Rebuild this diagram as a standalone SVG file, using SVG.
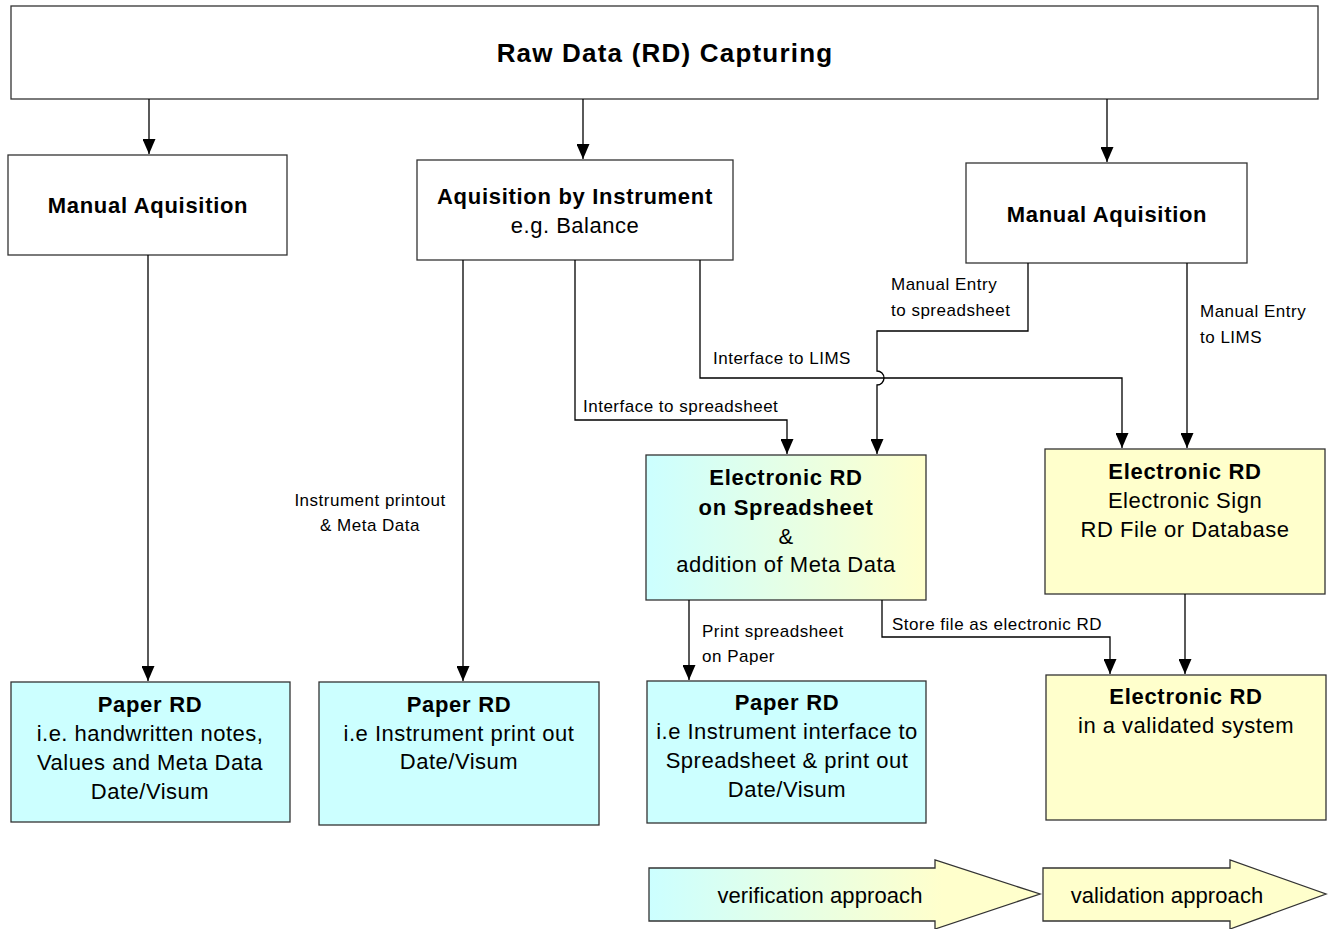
<svg xmlns="http://www.w3.org/2000/svg" width="1336" height="929" viewBox="0 0 1336 929">
<style>
.box{stroke:#333;stroke-width:1.3;}
.w{fill:#fff;}
.c{fill:#ccffff;}
.y{fill:#ffffcc;}
text{font-family:"Liberation Sans",Arial,sans-serif;fill:#000;}
.t{font-size:22px;text-anchor:middle;letter-spacing:0.5px;}
.b{font-weight:bold;letter-spacing:0.7px;}
.l{font-size:17px;letter-spacing:0.5px;}
.ap{font-size:22px;text-anchor:middle;letter-spacing:0.1px;}
.conn path{fill:none;stroke:#000;stroke-width:1.3;}
</style>
<defs>
<linearGradient id="g" x1="0" y1="0" x2="1" y2="0">
<stop offset="0" stop-color="#ccffff"/>
<stop offset="1" stop-color="#ffffcc"/>
</linearGradient>
<linearGradient id="g2" gradientUnits="userSpaceOnUse" x1="649" y1="0" x2="1040" y2="0">
<stop offset="0" stop-color="#ccffff"/>
<stop offset="0.75" stop-color="#ffffcc"/>
<stop offset="1" stop-color="#ffffcc"/>
</linearGradient>
<marker id="a" markerWidth="15" markerHeight="13" refX="15" refY="6.5" orient="auto" markerUnits="userSpaceOnUse" viewBox="0 0 15 13">
<path d="M0,0 L15,6.5 L0,13 Z" fill="#000"/>
</marker>
</defs>

<g id="top">
<rect class="box w" x="11" y="6" width="1307" height="93"/>
<text class="t b" x="665" y="62" style="font-size:26px;letter-spacing:1.2px">Raw Data (RD) Capturing</text>
</g>

<g id="manual1">
<rect class="box w" x="8" y="155" width="279" height="100"/>
<text class="t b" x="148" y="213">Manual Aquisition</text>
</g>

<g id="instrument">
<rect class="box w" x="417" y="160" width="316" height="100"/>
<text class="t b" x="575" y="204">Aquisition by Instrument</text>
<text class="t" x="575" y="233">e.g. Balance</text>
</g>

<g id="manual3">
<rect class="box w" x="966" y="163" width="281" height="100"/>
<text class="t b" x="1107" y="222">Manual Aquisition</text>
</g>

<g id="spreadsheet">
<rect class="box" fill="url(#g)" x="646" y="455" width="280" height="145"/>
<text class="t b" x="786" y="485">Electronic RD</text>
<text class="t b" x="786" y="515">on Spreadsheet</text>
<text class="t" x="786" y="544">&amp;</text>
<text class="t" x="786" y="572">addition of Meta Data</text>
</g>

<g id="elims">
<rect class="box y" x="1045" y="449" width="280" height="145"/>
<text class="t b" x="1185" y="479">Electronic RD</text>
<text class="t" x="1185" y="508">Electronic Sign</text>
<text class="t" x="1185" y="537">RD File or Database</text>
</g>

<g id="paper1">
<rect class="box c" x="11" y="682" width="279" height="140"/>
<text class="t b" x="150" y="712">Paper RD</text>
<text class="t" x="150" y="741">i.e. handwritten notes,</text>
<text class="t" x="150" y="770">Values and Meta Data</text>
<text class="t" x="150" y="799">Date/Visum</text>
</g>

<g id="paper2">
<rect class="box c" x="319" y="682" width="280" height="143"/>
<text class="t b" x="459" y="712">Paper RD</text>
<text class="t" x="459" y="741">i.e Instrument print out</text>
<text class="t" x="459" y="769">Date/Visum</text>
</g>

<g id="paper3">
<rect class="box c" x="647" y="681" width="279" height="142"/>
<text class="t b" x="787" y="710">Paper RD</text>
<text class="t" x="787" y="739">i.e Instrument interface to</text>
<text class="t" x="787" y="768">Spreadsheet &amp; print out</text>
<text class="t" x="787" y="797">Date/Visum</text>
</g>

<g id="evalid">
<rect class="box y" x="1046" y="675" width="280" height="145"/>
<text class="t b" x="1186" y="704">Electronic RD</text>
<text class="t" x="1186" y="733">in a validated system</text>
</g>

<g id="verification">
<path class="box" fill="url(#g2)" d="M649,868 L935,868 L935,860 L1040,894 L935,929 L935,921 L649,921 Z"/>
<text class="ap" x="820" y="903">verification approach</text>
</g>

<g id="validation">
<path class="box y" d="M1043,868 L1230,868 L1230,860 L1326,894 L1230,929 L1230,921 L1043,921 Z"/>
<text class="ap" x="1167" y="903">validation approach</text>
</g>

<g class="conn" id="connectors">
<path d="M149,99 V154" marker-end="url(#a)"/>
<path d="M583,99 V159" marker-end="url(#a)"/>
<path d="M1107,99 V162" marker-end="url(#a)"/>
<path d="M148,255 V681" marker-end="url(#a)"/>
<path d="M463,260 V681" marker-end="url(#a)"/>
<path d="M575,260 V420 H787 V454" marker-end="url(#a)"/>
<path d="M700,260 V378 H1122 V448" marker-end="url(#a)"/>
<path d="M1028,263 V331 H877 V371 A7,7 0 0 1 877,385 V454" marker-end="url(#a)"/>
<path d="M1187,263 V448" marker-end="url(#a)"/>
<path d="M689,600 V680" marker-end="url(#a)"/>
<path d="M882,600 V637 H1110 V674" marker-end="url(#a)"/>
<path d="M1185,594 V674" marker-end="url(#a)"/>
</g>

<g id="labels">
<text class="l" x="891" y="290">Manual Entry</text>
<text class="l" x="891" y="316">to spreadsheet</text>
<text class="l" x="1200" y="317">Manual Entry</text>
<text class="l" x="1200" y="343">to LIMS</text>
<text class="l" x="713" y="364">Interface to LIMS</text>
<text class="l" x="583" y="412">Interface to spreadsheet</text>
<text class="l" x="370" y="506" text-anchor="middle">Instrument printout</text>
<text class="l" x="370" y="531" text-anchor="middle">&amp; Meta Data</text>
<text class="l" x="702" y="637">Print spreadsheet</text>
<text class="l" x="702" y="662">on Paper</text>
<text class="l" x="892" y="630">Store file as electronic RD</text>
</g>
</svg>
